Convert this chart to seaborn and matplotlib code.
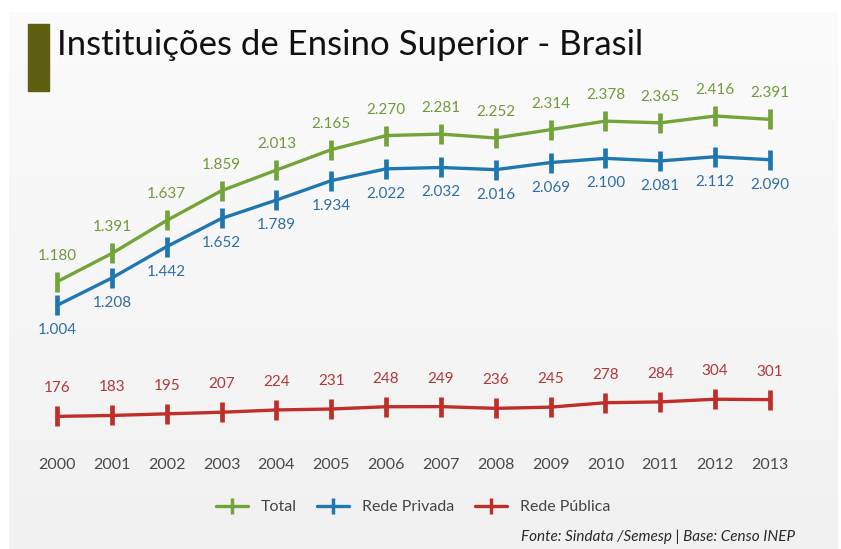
import numpy as np
import pandas as pd
import matplotlib
matplotlib.use("Agg")
import matplotlib.pyplot as plt
from matplotlib.lines import Line2D
from matplotlib.colors import LinearSegmentedColormap
import seaborn as sns

years = list(range(2000, 2014))
total = [1180, 1391, 1637, 1859, 2013, 2165, 2270, 2281, 2252, 2314, 2378, 2365, 2416, 2391]
privada = [1004, 1208, 1442, 1652, 1789, 1934, 2022, 2032, 2016, 2069, 2100, 2081, 2112, 2090]
publica = [176, 183, 195, 207, 224, 231, 248, 249, 236, 245, 278, 284, 304, 301]
series_names = ["Total", "Rede Privada", "Rede Pública"]
title = "Instituições de Ensino Superior - Brasil"
source = "Fonte: Sindata /Semesp | Base: Censo INEP"

line_colors = {"Total": "#72a43a", "Rede Privada": "#1f77b0", "Rede Pública": "#bf2f2a"}
text_colors = {"Total": "#6f9a3c", "Rede Privada": "#2e6ea6", "Rede Pública": "#b0383a"}
offsets = {"Total": 26, "Rede Privada": -25, "Rede Pública": 28}

df = pd.DataFrame({
    "Ano": years * 3,
    "Valor": total + privada + publica,
    "Serie": ["Total"] * len(years) + ["Rede Privada"] * len(years) + ["Rede Pública"] * len(years),
})

sns.set_theme(style="white")
plt.rcParams["font.family"] = ["Lato", "DejaVu Sans"]

W, H = 841, 549
fig = plt.figure(figsize=(W / 100, H / 100), dpi=100)
fig.patch.set_facecolor("white")

# background panel with gradient
bg = fig.add_axes([9 / W, 0, (838 - 9) / W, (549 - 12) / H])
grad = np.linspace(0, 1, 256).reshape(-1, 1)
cm = LinearSegmentedColormap.from_list("g", ["#fbfbfb", "#f1f1f1"])
bg.imshow(grad, aspect="auto", cmap=cm, extent=[0, 1, 0, 1], origin="upper")
bg.set_axis_off()

# title bar
fig.patches.append(plt.Rectangle((28 / W, 1 - 91 / H), 21 / W, 67 / H,
                                 transform=fig.transFigure, color="#5f5f12", zorder=5))
fig.text(57 / W, 1 - 45 / H, title, fontsize=25, color="#111111", va="center", ha="left")

ax = fig.add_axes([57 / W, (549 - 440) / H, 713 / W, (440 - 116) / H])
ax.set_facecolor("none")
for name in series_names:
    sub = df[df["Serie"] == name]
    c = line_colors[name]
    sns.lineplot(data=sub, x="Ano", y="Valor", ax=ax, color=c,
                 linewidth=2.4, marker="|", markersize=15, markeredgewidth=3.4,
                 markeredgecolor=c, markerfacecolor=c,
                 clip_on=False, legend=False)
    for x, v in zip(sub["Ano"], sub["Valor"]):
        lab = f"{v:,}".replace(",", ".")
        ax.annotate(lab, (x, v), xytext=(0, offsets[name]), textcoords="offset pixels",
                    ha="center", va="center", fontsize=11, color=text_colors[name])

ax.set_xlim(2000, 2013)
ax.set_ylim(0, 2416)
ax.set_xticks(years)
ax.set_xticklabels([str(y) for y in years], fontsize=11.5, color="#4a4a4a")
ax.tick_params(axis="x", length=0, pad=13)
ax.set_yticks([])
ax.set_xlabel("")
ax.set_ylabel("")
for s in ax.spines.values():
    s.set_visible(False)

handles = [Line2D([0], [0], color=line_colors[n], linewidth=2.4, marker="|",
                  markersize=12, markeredgewidth=2.5, markeredgecolor=line_colors[n])
           for n in series_names]
fig.legend(handles, series_names, loc="center", bbox_to_anchor=(413 / W, 1 - 507 / H),
           ncol=3, frameon=False, fontsize=11.5, labelcolor="#444444",
           handlelength=2.0, columnspacing=1.3, handletextpad=0.8)

fig.text(795 / W, 1 - 537 / H, source, fontsize=11, style="italic", color="#2a2a2a",
         ha="right", va="center")

fig.savefig("out.png", dpi=100)
